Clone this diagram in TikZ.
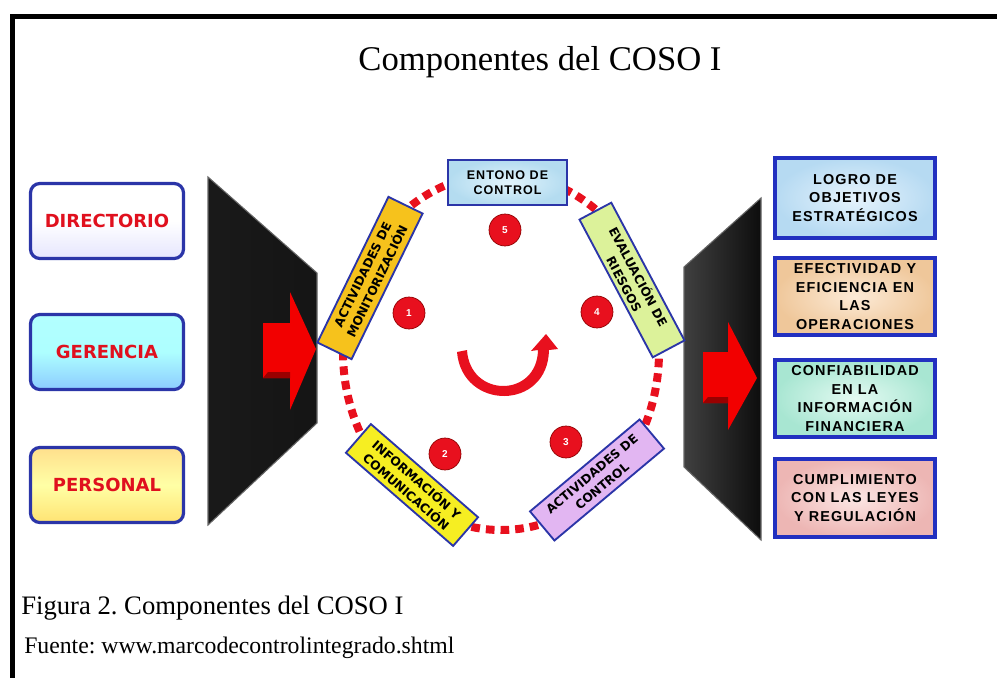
\documentclass[tikz,border=0pt]{standalone}
\usepackage{fontspec}
\setmainfont{Liberation Serif}
\newfontfamily\heavy{DejaVu Sans}
\newfontfamily\boxfont[LetterSpace=8]{Liberation Sans}
\usetikzlibrary{shapes.geometric}
\frenchspacing
\definecolor{bborder}{HTML}{2B35A8}
\definecolor{rborder}{HTML}{2230C0}
\definecolor{lblred}{HTML}{E0101E}
\definecolor{dotred}{HTML}{E8101E}
\definecolor{logroin}{HTML}{E6F3FC}\definecolor{logroout}{HTML}{B6DAF2}
\definecolor{efein}{HTML}{FCEAD6}\definecolor{efeout}{HTML}{EFC79A}
\definecolor{confin}{HTML}{E4FAF2}\definecolor{confout}{HTML}{A8E6D2}
\definecolor{cumpin}{HTML}{FCE6E4}\definecolor{cumpout}{HTML}{EDB6B4}
\definecolor{entin}{HTML}{E2F4FC}\definecolor{entout}{HTML}{B4DCF0}
\definecolor{monfill}{HTML}{F6C21C}
\definecolor{evafill}{HTML}{DCF29A}
\definecolor{actfill}{HTML}{E2B6F2}
\definecolor{inffill}{HTML}{F6EE22}
\tikzset{
  leftbox/.style={draw=bborder, line width=2.4pt, rounded corners=7pt,
    minimum width=114.75pt, minimum height=56.25pt, inner sep=0pt,
    font=\heavy\bfseries\fontsize{13.5}{16}\selectfont, text=lblred},
  rightbox/.style={draw=rborder, line width=2.6pt, minimum width=120pt,
    inner sep=0pt, align=center,
    font=\boxfont\bfseries\fontsize{10.8}{14.1}\selectfont},
  rotbox/.style={draw=bborder, line width=1.4pt, inner sep=0pt, align=center,
    font=\heavy\bfseries\fontsize{9.2}{12}\selectfont},
  numdot/.style={circle, fill=dotred, draw=red!55!black, line width=0.5pt,
    minimum size=24pt, inner sep=0pt, text=white,
    font=\boxfont\bfseries\fontsize{7.5}{8}\selectfont},
  funnel/.style={draw=black!60, line width=0.8pt},
  redarrow/.style={fill=red!95!black},
  plain/.style={inner sep=0pt}
}
\begin{document}
\begin{tikzpicture}[x=0.75pt,y=-0.75pt]
\useasboundingbox (0,0) rectangle (997,678);
% frame
\draw[line width=3.9pt] (12.5,678) -- (12.5,16.5) -- (997,16.5);
% title and captions
\node[plain] (title) at (540,62) {\fontsize{26}{30}\selectfont Componentes del COSO I};
\node[plain, anchor=west] (fig) at (21,608) {\fontsize{20}{24}\selectfont Figura 2. Componentes del COSO I};
\node[plain, anchor=west] (src) at (24,648) {\fontsize{17.8}{21}\selectfont Fuente: www.marcodecontrolintegrado.shtml};
% left boxes
\node[leftbox, top color=white, bottom color=black!5!blue!10, middle color=white] (dir) at (107,221) {DIRECTORIO};
\node[leftbox, top color=cyan!30, bottom color=cyan!55!blue!45, middle color=cyan!32] (ger) at (107,352) {GERENCIA};
\node[leftbox, top color=yellow!45!orange!45, bottom color=yellow!60!orange!55, middle color=yellow!35] (per) at (107,485) {PERSONAL};
% left funnel
\path[funnel, left color=black!90, middle color=black!50, right color=black!92]
  (208,177) -- (317,273) -- (317,423) -- (208,525) -- cycle;
\fill[redarrow] (263,323) -- (290,323) -- (290,292) -- (316,349) -- (290,410) -- (290,378) -- (263,378) -- cycle;
\fill[red!60!black] (290,378) -- (263,378) -- (268,372) -- (290,372) -- cycle;
% right funnel
\path[funnel, left color=black!75, middle color=black!50, right color=black!95]
  (684,267) -- (761,198) -- (761,540) -- (684,467) -- cycle;
\fill[redarrow] (703,352) -- (728,352) -- (728,322) -- (757,378) -- (728,430) -- (728,403) -- (703,403) -- cycle;
\fill[red!60!black] (728,403) -- (703,403) -- (708,397) -- (728,397) -- cycle;
% dotted ring
\draw[dotred, line width=6pt, dash pattern=on 6.5pt off 4.5pt] (501,352) ellipse [x radius=118.5pt, y radius=133.5pt];
% ring boxes
\node[draw=bborder, line width=2pt, inner sep=0pt, inner color=entin, outer color=entout,
  minimum width=89.25pt, minimum height=33.75pt, align=center,
  font=\boxfont\bfseries\fontsize{9.4}{11.4}\selectfont] (ent) at (507.5,182.5) {ENTONO DE\\CONTROL};
\node[rotbox, fill=monfill, minimum width=121.5pt, minimum height=28.5pt, rotate=64] (mon) at (370,278) {ACTIVIDADES DE\\MONITORIZACIÓN};
\node[rotbox, fill=evafill, minimum width=117pt, minimum height=27pt, rotate=-62] (eva) at (632,280) {EVALUACIÓN DE\\RIESGOS};
\node[rotbox, fill=actfill, minimum width=107.25pt, minimum height=28.5pt, rotate=40] (act) at (597,480) {ACTIVIDADES DE\\CONTROL};
\node[rotbox, fill=inffill, minimum width=106.5pt, minimum height=28.5pt, rotate=-41] (inf) at (412,485) {INFORMACIÓN Y\\COMUNICACIÓN};
% numbers
\node[numdot] (n5) at (505,230) {5};
\node[numdot] (n1) at (409,313) {1};
\node[numdot] (n4) at (597,312) {4};
\node[numdot] (n2) at (445,454) {2};
\node[numdot] (n3) at (566,442) {3};
% curved arrow
\fill[dotred] (457,352) .. controls (462,411) and (548,411) .. (549,350) -- (558,349) -- (546,334) -- (531,351) -- (538,350) .. controls (537,398) and (470,398) .. (467,350) -- cycle;
% right boxes
\node[rightbox, inner color=logroin, outer color=logroout, minimum height=60pt] (logro) at (855,198) {LOGRO DE\\OBJETIVOS\\ESTRATÉGICOS};
\node[rightbox, inner color=efein, outer color=efeout, minimum height=57.75pt] (efe) at (855,296.5) {EFECTIVIDAD Y\\EFICIENCIA EN\\LAS\\OPERACIONES};
\node[rightbox, inner color=confin, outer color=confout, minimum height=57.75pt] (conf) at (855,398.5) {CONFIABILIDAD\\EN LA\\INFORMACIÓN\\FINANCIERA};
\node[rightbox, inner color=cumpin, outer color=cumpout, minimum height=58.5pt] (cump) at (855,498) {CUMPLIMIENTO\\CON LAS LEYES\\Y REGULACIÓN};
\end{tikzpicture}
\end{document}
